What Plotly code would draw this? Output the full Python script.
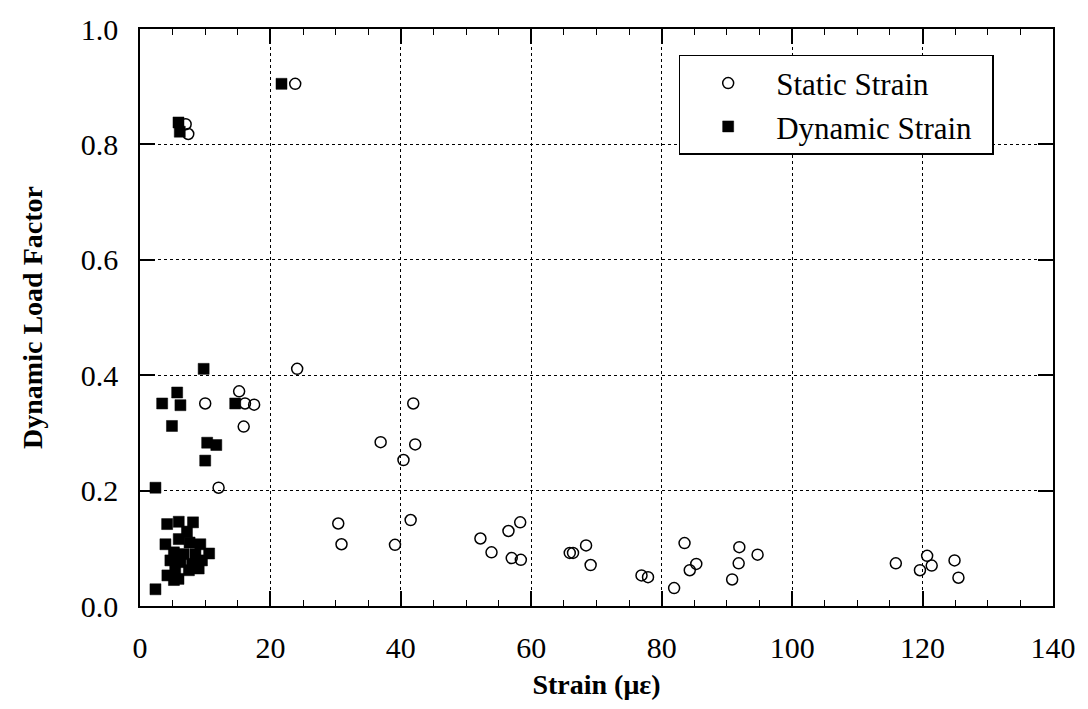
import plotly.graph_objects as go

static_x = [23.8, 7.0, 7.4, 24.1, 10.0, 15.2, 16.1, 17.5, 15.9, 12.05,
            41.9, 36.9, 42.2, 40.4, 41.5, 30.4, 30.9, 39.1, 52.2, 53.9,
            56.5, 58.3, 57.0, 58.4, 65.9, 66.4, 68.4, 69.1, 76.9, 77.9,
            81.9, 83.5, 85.3, 84.3, 91.9, 91.8, 90.8, 94.7, 115.9, 120.7,
            121.4, 119.6, 124.9, 125.5]
static_y = [0.905, 0.835, 0.818, 0.411, 0.351, 0.372, 0.351, 0.349, 0.311, 0.205,
            0.351, 0.284, 0.280, 0.253, 0.149, 0.143, 0.107, 0.106, 0.117, 0.093,
            0.130, 0.145, 0.083, 0.080, 0.092, 0.092, 0.105, 0.071, 0.053, 0.050,
            0.031, 0.109, 0.073, 0.062, 0.102, 0.074, 0.046, 0.089, 0.074, 0.087,
            0.070, 0.062, 0.079, 0.049]

dynamic_x = [21.7, 5.9, 6.1, 9.76, 3.4, 5.7, 6.2, 14.6, 4.9, 10.3, 11.7, 10.0, 2.37,
             4.16, 5.94, 8.13, 7.2, 5.94, 3.9, 7.6, 9.25, 5.2, 6.7, 8.5, 10.6,
             4.66, 6.2, 8.0, 9.5, 5.4, 7.5, 9.0, 4.2, 5.2, 5.9, 2.37]
dynamic_y = [0.905, 0.838, 0.822, 0.411, 0.351, 0.370, 0.348, 0.351, 0.312, 0.283, 0.279, 0.252, 0.205,
             0.142, 0.146, 0.145, 0.129, 0.116, 0.107, 0.110, 0.107, 0.093, 0.090, 0.090, 0.091,
             0.079, 0.076, 0.073, 0.079, 0.062, 0.062, 0.065, 0.053, 0.045, 0.047, 0.029]

x_ticks = [0, 20, 40, 60, 80, 100, 120, 140]
y_ticks = [0.0, 0.2, 0.4, 0.6, 0.8, 1.0]
y_ticklabels = ["0.0", "0.2", "0.4", "0.6", "0.8", "1.0"]

FONT = "Liberation Serif, Times New Roman, serif"
PAD = "\u00a0\u00a0"

fig = go.Figure()
fig.add_trace(go.Scatter(
    x=static_x, y=static_y, mode="markers", name="Static Strain" + PAD,
    marker=dict(symbol="circle-open", size=11, color="black", line=dict(width=1.5, color="black")),
))
fig.add_trace(go.Scatter(
    x=dynamic_x, y=dynamic_y, mode="markers", name="Dynamic Strain" + PAD,
    marker=dict(symbol="square", size=11, color="black", line=dict(width=0.5, color="black")),
))

axis_common = dict(
    showline=True, linecolor="black", linewidth=1.5, mirror="ticks",
    ticks="inside", ticklen=15, tickwidth=1.5, tickcolor="black",
    showgrid=True, gridcolor="black", gridwidth=1, griddash="dot",
    zeroline=False,
    tickfont=dict(family=FONT, size=30, color="black"),
)

fig.update_xaxes(
    range=[0, 140], tickvals=x_ticks, ticktext=[str(v) for v in x_ticks],
    minor=dict(dtick=5, tick0=0, ticks="inside", ticklen=6, tickwidth=1, tickcolor="black", showgrid=False),
    title=dict(text="<b>Strain (\u03bc\u03b5)</b>", font=dict(family=FONT, size=28, color="black"), standoff=12),
    ticklabelstandoff=14,
    **axis_common,
)
fig.update_yaxes(
    range=[0, 1.0], tickvals=y_ticks, ticktext=y_ticklabels,
    title=dict(text="<b>Dynamic Load Factor</b>", font=dict(family=FONT, size=28, color="black"), standoff=30),
    ticklabelstandoff=14,
    **axis_common,
)

fig.update_layout(
    width=1088, height=709,
    margin=dict(l=140, r=33, t=23, b=103),
    paper_bgcolor="white", plot_bgcolor="white",
    font=dict(family=FONT, color="black"),
    showlegend=True,
    legend=dict(
        x=0.590, y=0.955, xanchor="left", yanchor="top",
        bgcolor="white", bordercolor="black", borderwidth=1.5,
        font=dict(family=FONT, size=31, color="black"),
        itemwidth=86,
    ),
)

fig.write_html("out.html")
